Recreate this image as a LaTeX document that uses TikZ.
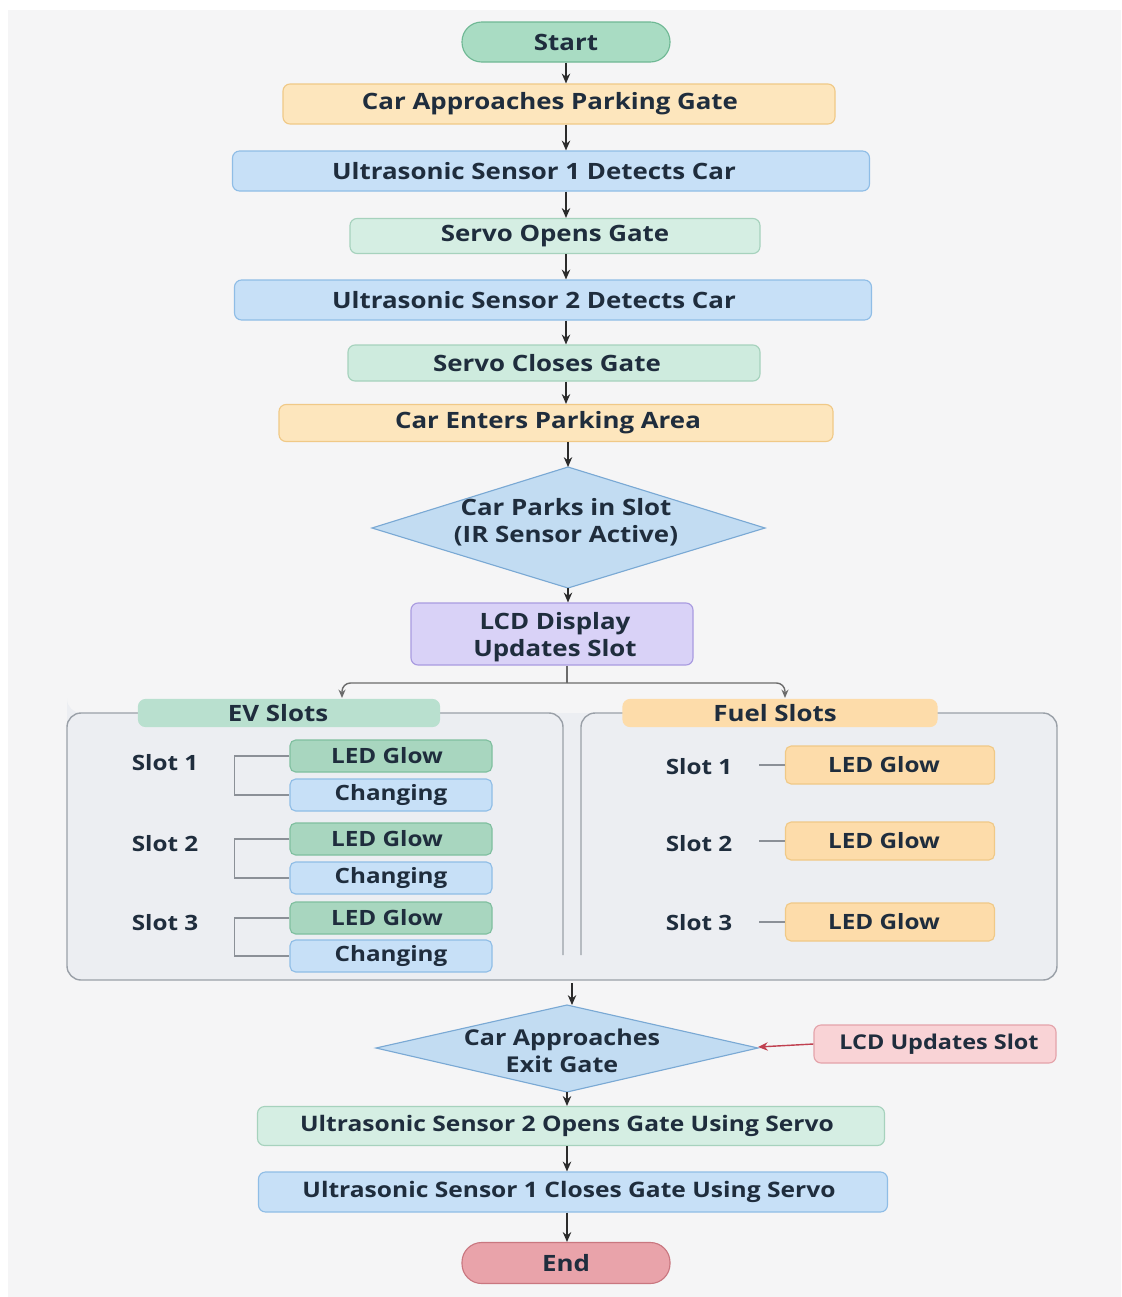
\documentclass[tikz,border=0pt]{standalone}
\usepackage{fontspec}
\setmainfont{Open Sans}[FakeStretch=1.15]
\usetikzlibrary{arrows.meta,shapes.geometric}
\newlength{\pxtwo}\setlength{\pxtwo}{0.05cm}
\definecolor{txt}{HTML}{1F2D3D}
\definecolor{gFill}{HTML}{A9DCC3}\definecolor{gDraw}{HTML}{6FB894}
\definecolor{oFill}{HTML}{FDE6BD}\definecolor{oDraw}{HTML}{F0C987}
\definecolor{bFill}{HTML}{C7E0F7}\definecolor{bDraw}{HTML}{8FBDE6}
\definecolor{mFill}{HTML}{D5EEE3}\definecolor{mDraw}{HTML}{A6D2BD}
\definecolor{dFill}{HTML}{C2DCF2}\definecolor{dDraw}{HTML}{7AA9D4}
\definecolor{lFill}{HTML}{D9D2F7}\definecolor{lDraw}{HTML}{A99BE0}
\definecolor{cFill}{HTML}{ECEEF2}\definecolor{cDraw}{HTML}{9AA0A8}
\definecolor{pFill}{HTML}{F9D3D6}\definecolor{pDraw}{HTML}{E4A3AA}
\definecolor{eFill}{HTML}{E9A3AA}\definecolor{eDraw}{HTML}{C97780}
\definecolor{ledG}{HTML}{A8D6BF}\definecolor{ledGD}{HTML}{7FBF9F}
\definecolor{evT}{HTML}{B9E0CF}
\definecolor{arr}{HTML}{2B2B2B}
\definecolor{redarr}{HTML}{C04050}
\definecolor{bg}{HTML}{F5F5F6}
\tikzset{
  base/.style={font=\bfseries\fontsize{16}{19}\selectfont, text=txt, inner sep=0pt, line width=0.8pt},
  box/.style={base, rounded corners=5pt, minimum height=#1*0.025cm},
  tl/.style={execute at begin node={\hspace*{-#1\pxtwo}}},
  pill/.style={base, rounded corners=14pt, minimum height=40*0.025cm, minimum width=208*0.025cm},
  sm/.style={base, font=\bfseries\fontsize{15}{17}\selectfont, rounded corners=4pt, minimum width=202*0.025cm, minimum height=32*0.025cm},
  slot/.style={base, font=\bfseries\fontsize{15}{17}\selectfont},
  flow/.style={-{Stealth[length=7pt,width=6pt]}, arr, line width=1pt},
  brk/.style={draw=cDraw!90!black, line width=0.9pt},
}
\begin{document}
\begin{tikzpicture}[x=0.025cm,y=-0.025cm]
\useasboundingbox (0,0) rectangle (1121,1297);
\fill[white] (0,0) rectangle (1121,1297);
\fill[bg] (8,10) rectangle (1121,1297);

% main column
\node[pill, fill=gFill, draw=gDraw] (start) at (566,42) {Start};
\node[box=40, minimum width=552*0.025cm, fill=oFill, draw=oDraw, tl=9] (approach) at (559,104) {Car Approaches Parking Gate};
\node[box=40, minimum width=637*0.025cm, fill=bFill, draw=bDraw, tl=17] (us1) at (551,171) {Ultrasonic Sensor 1 Detects Car};
\node[box=35, minimum width=410*0.025cm, fill=mFill, draw=mDraw] (open) at (555,236) {Servo Opens Gate};
\node[box=40, minimum width=637*0.025cm, fill=bFill, draw=bDraw, tl=19] (us2) at (553,300) {Ultrasonic Sensor 2 Detects Car};
\node[box=36, minimum width=412*0.025cm, fill=mFill!85!gFill, draw=mDraw, tl=7] (close) at (554,363) {Servo Closes Gate};
\node[box=37, minimum width=554*0.025cm, fill=oFill, draw=oDraw, tl=8] (enter) at (556,423) {Car Enters Parking Area};

\path[fill=dFill, draw=dDraw, line width=0.8pt] (372,528) -- (568,467) -- (765,528) -- (568,588) -- cycle;
\node[base, align=center] (park) at (566,522) {Car Parks in Slot\\(IR Sensor Active)};
\coordinate (parkT) at (568,467);
\coordinate (parkB) at (568,588);

\node[box=62, minimum width=282*0.025cm, fill=lFill, draw=lDraw] (lcd) at (552,634) {};
\node[base, align=center] (lcdtext) at (555,637) {LCD Display\\Updates Slot};

% containers
\fill[cFill] (67,713) [rounded corners=10pt] -- (67,980) -- (1057,980) -- (1057,713) -- (67,713) -- cycle;
\draw[cDraw, line width=1pt, rounded corners=10pt] (139,713) -- (67,713) -- (67,980) -- (1057,980) -- (1057,713) -- (937,713);
\draw[cDraw, line width=1pt, rounded corners=10pt] (440,713) -- (563,713) -- (563,955);
\draw[cDraw, line width=1pt, rounded corners=10pt] (623,713) -- (581,713) -- (581,955);
\node[box=27, minimum width=301*0.025cm, fill=evT, draw=evT, tl=11] (ev) at (289,713) {EV Slots};
\node[box=27, minimum width=314*0.025cm, fill=oFill!90!orange, draw=oFill!90!orange, tl=5] (fuel) at (780,713) {Fuel Slots};

% branch from LCD
\coordinate (split) at (567,683);
\draw[arr!70, line width=1pt] (lcd.south -| split) -- (split);
\draw[arr!70, line width=1pt, -{Stealth[length=6pt,width=5pt]}, rounded corners=6pt] (split) -- (342,683) -- (342,698);
\draw[arr!70, line width=1pt, -{Stealth[length=6pt,width=5pt]}, rounded corners=6pt] (split) -- (785,683) -- (785,698);

% EV slots
\foreach \i/\y in {1/763,2/844,3/923} {
  \node[slot] (evs\i) at (165,\y) {Slot \i};
}
\foreach \i/\a/\b in {1/756/795,2/839/878,3/918/956} {
  \node[sm, fill=ledG, draw=ledGD, tl=4] (evled\i) at (391,\a) {LED Glow};
  \node[sm, fill=bFill, draw=bDraw] (evch\i) at (391,\b) {Changing};
  \draw[brk] (evled\i.west) -- ++(-55,0) |- (evch\i.west);
}

% Fuel slots
\foreach \i/\y in {1/767,2/844,3/923} {
  \node[slot] (fs\i) at (699,\y) {Slot \i};
}
\foreach \i/\y in {1/765,2/841,3/922} {
  \node[sm, minimum width=209*0.025cm, minimum height=38*0.025cm, fill=oFill!90!orange, draw=oDraw, tl=6] (fled\i) at (890,\y) {LED Glow};
  \draw[brk] (fled\i.west) -- ++(-26,0);
}

% exit part
\coordinate (contB) at (572,983);
\path[fill=dFill, draw=dDraw, line width=0.8pt] (376,1048) -- (567,1005) -- (758,1048) -- (567,1092) -- cycle;
\node[base, font=\bfseries\fontsize{15.5}{19}\selectfont, align=center] (exit) at (562,1051) {Car Approaches\\Exit Gate};
\coordinate (exitT) at (567,1005);
\coordinate (exitR) at (758,1047);
\coordinate (exitB) at (567,1092);
\node[box=38, minimum width=242*0.025cm, fill=pFill, draw=pDraw, font=\bfseries\fontsize{14.5}{17}\selectfont, tl=-4] (lcdu) at (935,1044) {LCD Updates Slot};
\node[box=39, minimum width=627*0.025cm, fill=mFill, draw=mDraw, font=\bfseries\fontsize{15.2}{17}\selectfont, tl=4] (us2o) at (571,1126) {Ultrasonic Sensor 2 Opens Gate Using Servo};
\node[box=40, minimum width=629*0.025cm, fill=bFill, draw=bDraw, font=\bfseries\fontsize{15.2}{17}\selectfont, tl=4] (us1c) at (573,1192) {Ultrasonic Sensor 1 Closes Gate Using Servo};
\node[pill, fill=eFill, draw=eDraw, minimum height=41*0.025cm] (end) at (566,1263) {End};

% arrows
\draw[flow] (start.south) -- (approach.north -| start.south);
\draw[flow] (approach.south -| start.south) -- (us1.north -| start.south);
\draw[flow] (us1.south -| start.south) -- (open.north -| start.south);
\draw[flow] (open.south -| start.south) -- (us2.north -| start.south);
\draw[flow] (us2.south -| start.south) -- (close.north -| start.south);
\draw[flow] (close.south -| start.south) -- (enter.north -| start.south);
\draw[flow] (enter.south -| parkT) -- (parkT);
\draw[flow] (parkB) -- (lcd.north -| parkB);
\draw[flow] (contB) -- (exitT -| contB);
\draw[-{Stealth[length=7pt,width=6pt]}, redarr, line width=1pt] (lcdu.west) -- (exitR);
\draw[flow] (exitB) -- (us2o.north -| exitB);
\draw[flow] (us2o.south -| exitB) -- (us1c.north -| exitB);
\draw[flow] (us1c.south -| exitB) -- (end.north -| exitB);
\end{tikzpicture}
\end{document}
